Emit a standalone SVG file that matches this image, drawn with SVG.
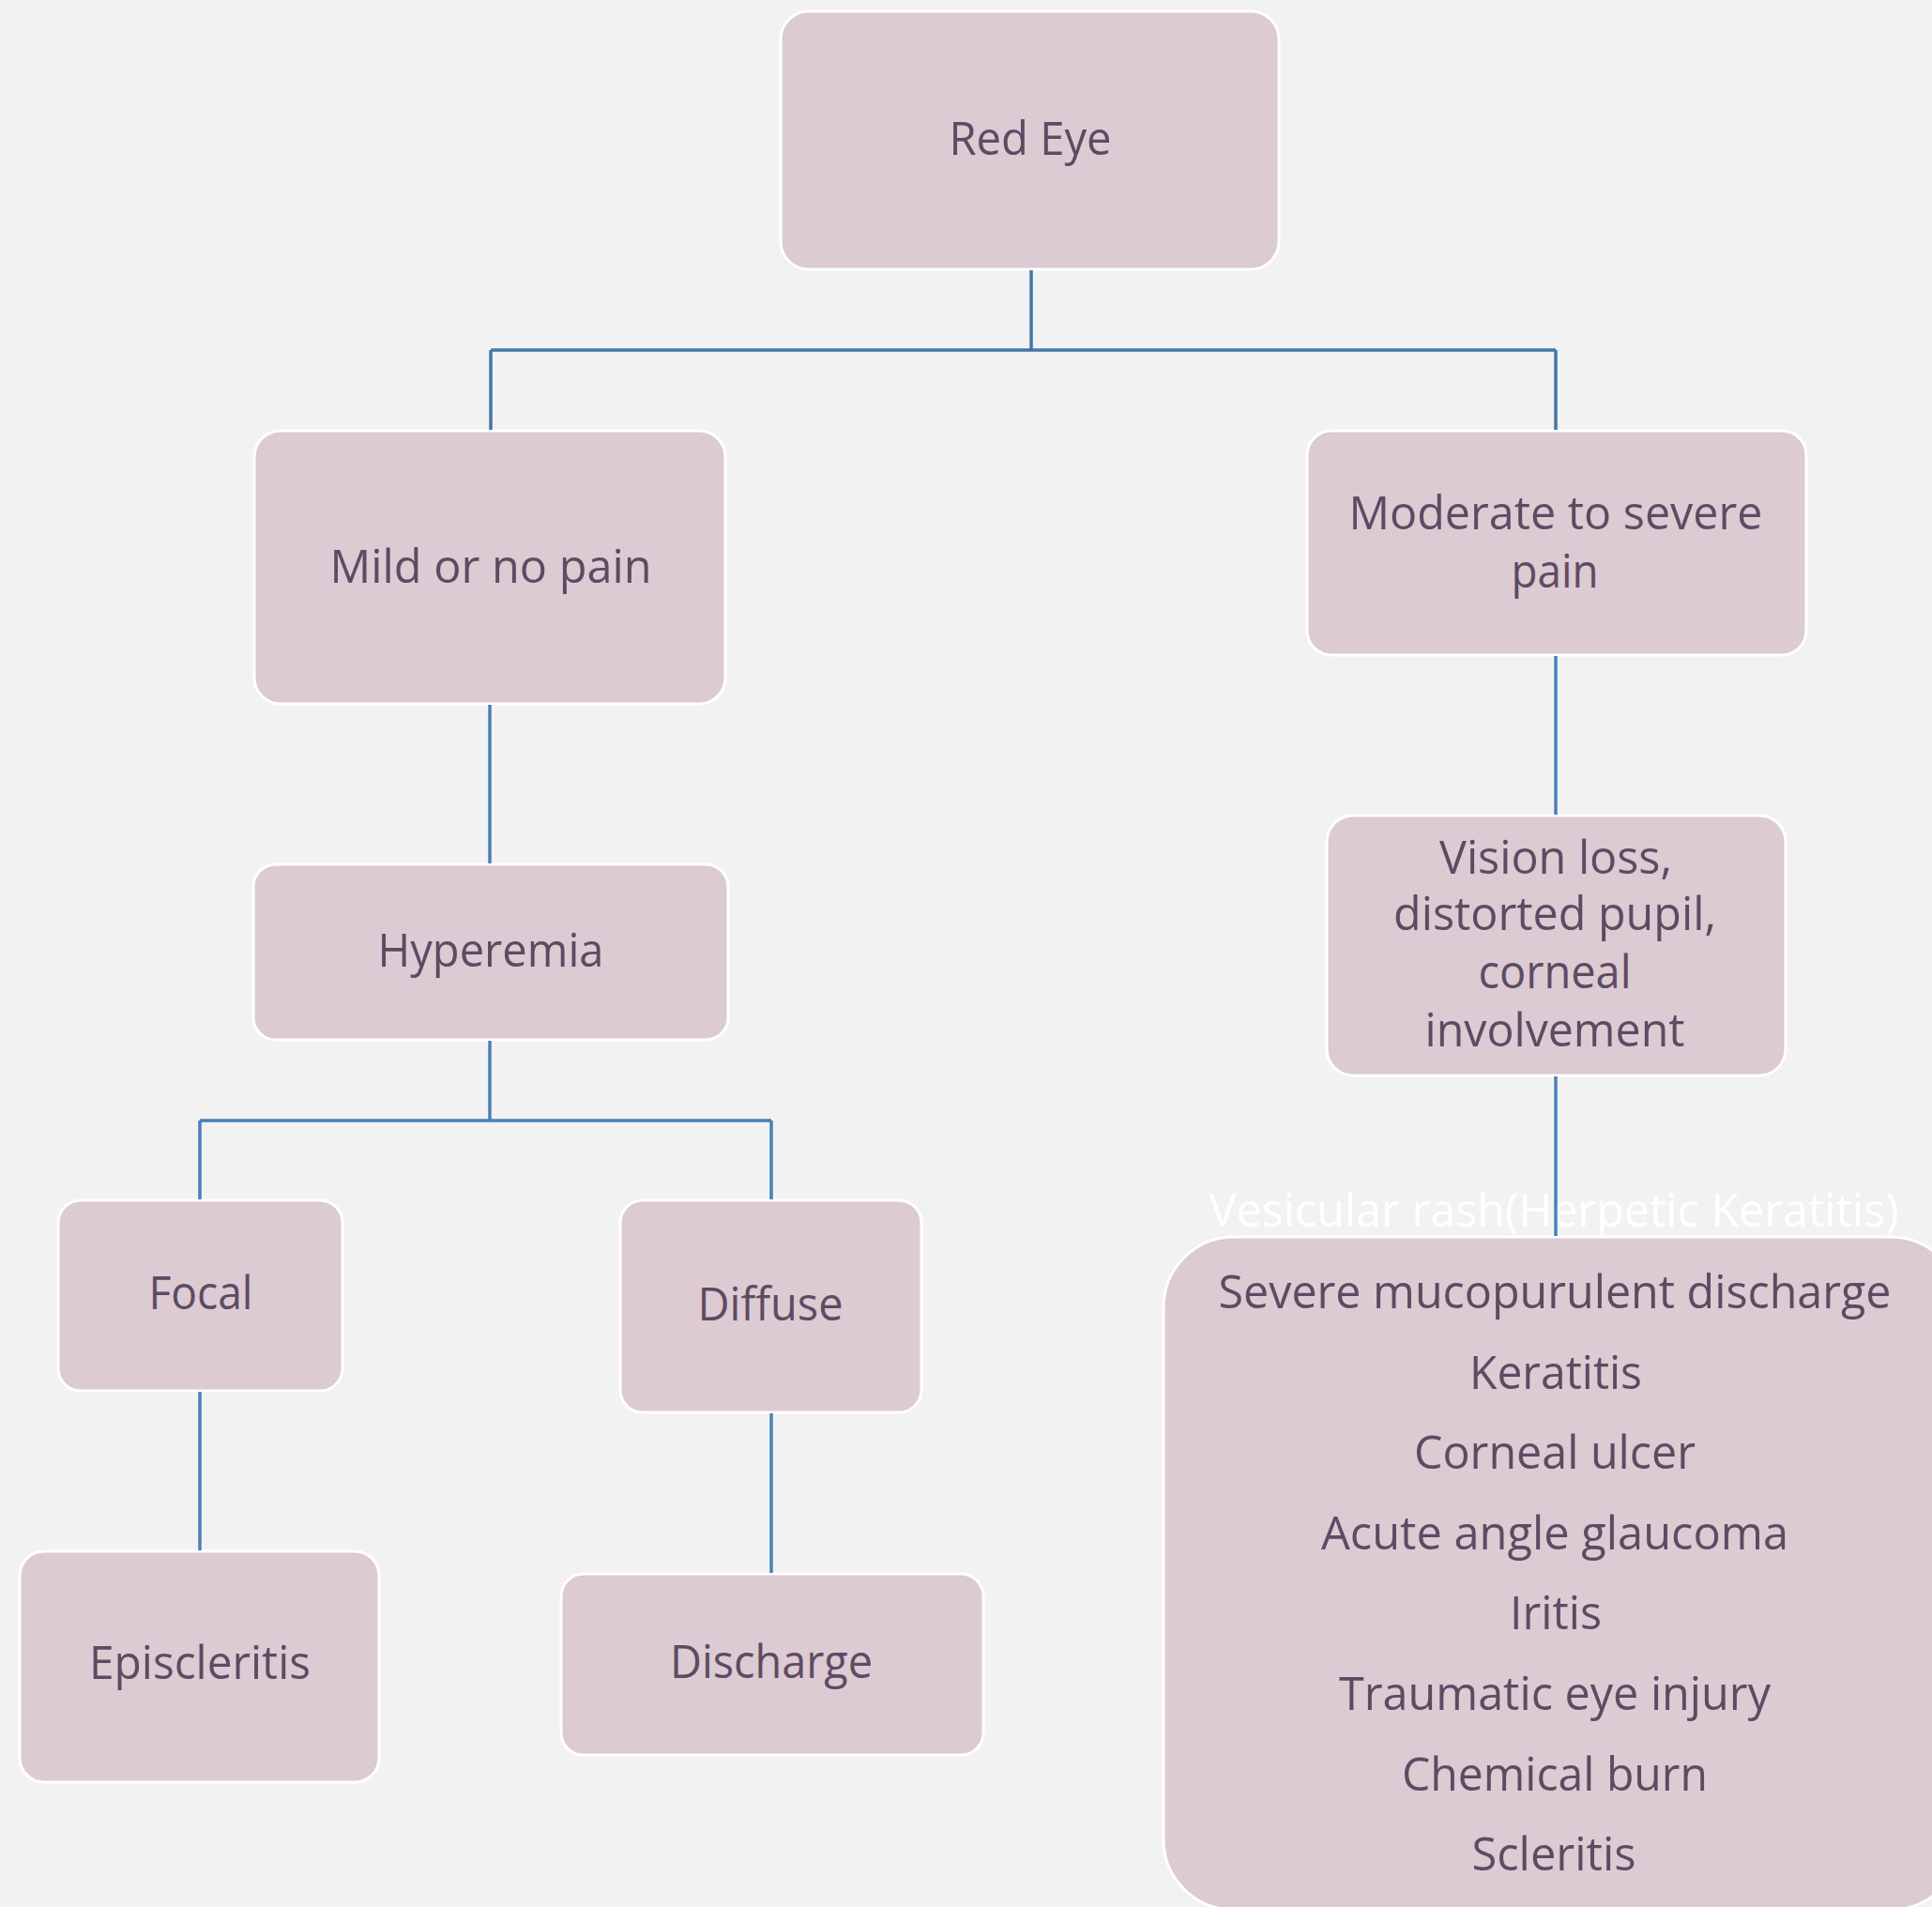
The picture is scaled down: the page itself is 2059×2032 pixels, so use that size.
<svg xmlns="http://www.w3.org/2000/svg" width="2059" height="2032" viewBox="0 0 2059 2032">
<style>
.box{fill:#dccbd2;stroke:#ffffff;stroke-width:3}
.t{font-family:"Open Sans","Liberation Sans",sans-serif;font-size:49px;fill:#5f4a64;text-anchor:middle}
.w{fill:#ffffff}
.c{fill:none;stroke:#4a80b6;stroke-width:3.5}
</style>
<rect width="2059" height="2032" fill="#f2f2f2"/>
<g id="n-redeye"><rect class="box" x="832" y="12" width="531" height="275" rx="30"/><text class="t" x="1098" y="165" textLength="173" lengthAdjust="spacingAndGlyphs">Red Eye</text></g>
<g id="n-mild"><rect class="box" x="271" y="459" width="502" height="291" rx="28"/><text class="t" x="523" y="621" textLength="343" lengthAdjust="spacingAndGlyphs">Mild or no pain</text></g>
<g id="n-moderate"><rect class="box" x="1393" y="459" width="532" height="239" rx="26"/><text class="t" x="1658" y="564" textLength="441" lengthAdjust="spacingAndGlyphs">Moderate to severe</text><text class="t" x="1657" y="626" textLength="93" lengthAdjust="spacingAndGlyphs">pain</text></g>
<g id="n-hyperemia"><rect class="box" x="270" y="921" width="506" height="187" rx="24"/><text class="t" x="523" y="1030" textLength="241" lengthAdjust="spacingAndGlyphs">Hyperemia</text></g>
<g id="n-vision"><rect class="box" x="1414" y="869" width="489" height="277" rx="28"/>
<text class="t" x="1658" y="931" textLength="248" lengthAdjust="spacingAndGlyphs">Vision loss,</text>
<text class="t" x="1657" y="991" textLength="344" lengthAdjust="spacingAndGlyphs">distorted pupil,</text>
<text class="t" x="1657" y="1053" textLength="163" lengthAdjust="spacingAndGlyphs">corneal</text>
<text class="t" x="1657" y="1115" textLength="277" lengthAdjust="spacingAndGlyphs">involvement</text></g>
<g id="n-focal"><rect class="box" x="62" y="1279" width="303" height="203" rx="24"/><text class="t" x="214" y="1395" textLength="111" lengthAdjust="spacingAndGlyphs">Focal</text></g>
<g id="n-diffuse"><rect class="box" x="661" y="1279" width="321" height="226" rx="24"/><text class="t" x="821" y="1407" textLength="155" lengthAdjust="spacingAndGlyphs">Diffuse</text></g>
<g id="n-episcleritis"><rect class="box" x="21" y="1653" width="383" height="246" rx="26"/><text class="t" x="213" y="1789" textLength="236" lengthAdjust="spacingAndGlyphs">Episcleritis</text></g>
<g id="n-discharge"><rect class="box" x="598" y="1677" width="450" height="193" rx="24"/><text class="t" x="822" y="1788" textLength="216" lengthAdjust="spacingAndGlyphs">Discharge</text></g>
<g id="n-severe">
<text class="t w" x="1656" y="1307" textLength="735" lengthAdjust="spacingAndGlyphs">Vesicular rash(Herpetic Keratitis)</text>
<rect class="box" x="1240" y="1318" width="850" height="717" rx="75"/>
<text class="t" x="1657" y="1394" textLength="717" lengthAdjust="spacingAndGlyphs">Severe mucopurulent discharge</text>
<text class="t" x="1658" y="1480" textLength="184" lengthAdjust="spacingAndGlyphs">Keratitis</text>
<text class="t" x="1657" y="1565" textLength="300" lengthAdjust="spacingAndGlyphs">Corneal ulcer</text>
<text class="t" x="1657" y="1651" textLength="498" lengthAdjust="spacingAndGlyphs">Acute angle glaucoma</text>
<text class="t" x="1658" y="1736" textLength="98" lengthAdjust="spacingAndGlyphs">Iritis</text>
<text class="t" x="1657" y="1822" textLength="460" lengthAdjust="spacingAndGlyphs">Traumatic eye injury</text>
<text class="t" x="1657" y="1908" textLength="326" lengthAdjust="spacingAndGlyphs">Chemical burn</text>
<text class="t" x="1656" y="1993" textLength="175" lengthAdjust="spacingAndGlyphs">Scleritis</text>
</g>
<g id="connectors">
<path class="c" style="stroke:#4277a8" d="M1099 288V373M523 373H1658M523 373V458M1658 373V458"/>
<path class="c" d="M522 751V920"/>
<path class="c" d="M1658 699V868"/>
<path class="c" d="M522 1109V1194M213 1194H822M213 1194V1278M822 1194V1278"/>
<path class="c" d="M213 1483V1652"/>
<path class="c" d="M822 1506V1676"/>
<path class="c" d="M1658 1147V1317"/>
</g>
</svg>
